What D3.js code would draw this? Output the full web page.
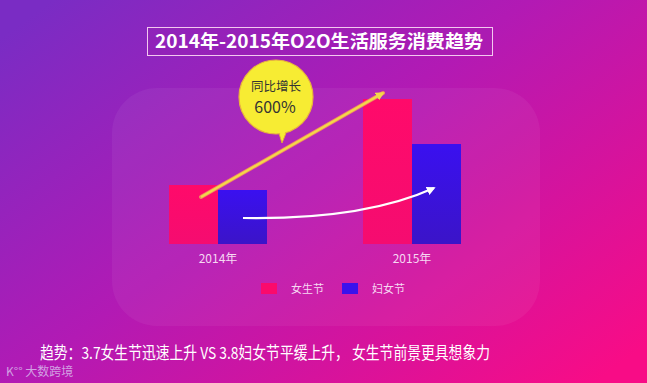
<!DOCTYPE html>
<html><head><meta charset="utf-8">
<script src="https://cdn.jsdelivr.net/npm/d3@7"></script>
<style>html,body{margin:0;padding:0;background:#fff}svg{display:block}</style>
</head><body>
<script>
const years = ["2014年", "2015年"];
const seriesNames = ["女生节", "妇女节"];
const girlsDay = [59, 145];
const womensDay = [54, 100];
const seriesColors = ["#fb0a6c", "#3a12ec"];
const title = "2014年-2015年O2O生活服务消费趋势";
const bubbleLines = ["同比增长", "600%"];
const note = "趋势：3.7女生节迅速上升 VS 3.8妇女节平缓上升， 女生节前景更具想象力";

const W = 647, H = 383;
const svg = d3.select("body").append("svg").attr("width", W).attr("height", H);
const defs = svg.append("defs");
const bg = defs.append("linearGradient").attr("id","bg").attr("x1","0").attr("y1","0.1").attr("x2","1").attr("y2","0.9");
bg.append("stop").attr("offset","0").attr("stop-color","#7a2cc4");
bg.append("stop").attr("offset","0.45").attr("stop-color","#b21ab4");
bg.append("stop").attr("offset","1").attr("stop-color","#f80c86");
svg.append("rect").attr("width",W).attr("height",H).attr("fill","url(#bg)");

// soft panel
svg.append("rect").attr("x",112).attr("y",88).attr("width",428).attr("height",238).attr("rx",45)
  .attr("fill","#ffffff").attr("opacity",0.05);

// title
svg.append("rect").attr("x",147.5).attr("y",27.5).attr("width",345).attr("height",28)
  .attr("fill","#9a1fae").attr("fill-opacity",0.3).attr("stroke","#f3c8ef").attr("stroke-width",1);
svg.append("text").attr("x",319).attr("y",48).attr("text-anchor","middle")
  .attr("font-family","'Noto Sans CJK SC', sans-serif").attr("font-weight","bold").attr("font-size",18)
  .attr("textLength",328).attr("lengthAdjust","spacingAndGlyphs")
  .attr("fill","#ffffff").text(title);

// scales
const xc = d3.scalePoint().domain(years).range([218, 412]);
const x1 = d3.scaleBand().domain(seriesNames).range([-49, 49]).padding(0);
const y = d3.scaleLinear().domain([0, 150]).range([244, 94]);

const gradB = defs.append("linearGradient").attr("id","gb").attr("x1",0).attr("y1",0).attr("x2",0).attr("y2",1);
gradB.append("stop").attr("offset",0).attr("stop-color","#3a10f0");
gradB.append("stop").attr("offset",1).attr("stop-color","#3b14c8");
const gradP = defs.append("linearGradient").attr("id","gp").attr("x1",0).attr("y1",0).attr("x2",0).attr("y2",1);
gradP.append("stop").attr("offset",0).attr("stop-color","#ff0a6a");
gradP.append("stop").attr("offset",1).attr("stop-color","#f50c70");

const data = [];
years.forEach((yr,i)=>{
  data.push({yr, s:seriesNames[0], v:girlsDay[i], fill:"url(#gp)"});
  data.push({yr, s:seriesNames[1], v:womensDay[i], fill:"url(#gb)"});
});
svg.append("g").selectAll("rect").data(data).join("rect")
  .attr("x", d => xc(d.yr) + x1(d.s))
  .attr("y", d => y(d.v))
  .attr("width", x1.bandwidth())
  .attr("height", d => y(0) - y(d.v))
  .attr("fill", d => d.fill);

// x labels
svg.append("g").selectAll("text").data(years).join("text")
  .attr("x", d => xc(d)).attr("y", 263).attr("text-anchor","middle")
  .attr("font-family","'Noto Sans CJK SC', sans-serif").attr("font-size",12)
  .attr("fill","#f6d8f2").text(d=>d);

// legend
const lg = svg.append("g");
seriesNames.forEach((n,i)=>{
  const lx = 261 + i*81;
  lg.append("rect").attr("x",lx).attr("y",283).attr("width",16).attr("height",11).attr("fill",seriesColors[i]);
  lg.append("text").attr("x",lx+30).attr("y",293).attr("font-family","'Noto Sans CJK SC', sans-serif")
    .attr("font-size",11).attr("fill","#f6d8f2").text(n);
});

// arrows
const mY = defs.append("marker").attr("id","ay").attr("viewBox","0 0 10 10").attr("refX",8).attr("refY",5)
  .attr("markerWidth",4).attr("markerHeight",4).attr("orient","auto");
mY.append("path").attr("d","M0,0L10,5L0,10z").attr("fill","#f2d84a");
const mW = defs.append("marker").attr("id","aw").attr("viewBox","0 0 10 10").attr("refX",8).attr("refY",5)
  .attr("markerWidth",4).attr("markerHeight",4).attr("orient","auto");
mW.append("path").attr("d","M0,0L10,5L0,10z").attr("fill","#ffffff");

const p1 = [xc(years[0]) - 17, y(girlsDay[0]) + 12];
const p2 = [xc(years[1]) - 29, y(girlsDay[1]) - 6];
svg.append("line").attr("x1",p1[0]).attr("y1",p1[1]).attr("x2",p2[0]).attr("y2",p2[1])
  .attr("stroke","#f08a60").attr("stroke-width",4).attr("stroke-linecap","round");
svg.append("line").attr("x1",p1[0]).attr("y1",p1[1]).attr("x2",p2[0]).attr("y2",p2[1])
  .attr("stroke","#f2d84a").attr("stroke-width",2.2).attr("marker-end","url(#ay)");

const q1 = [xc(years[0]) + 25, y(womensDay[0]) + 28];
const q2 = [xc(years[1]) + 22, y(womensDay[1]) + 44];
svg.append("path").attr("d",`M${q1[0]},${q1[1]} Q${(q1[0]+q2[0])/2+25},${q1[1]+2} ${q2[0]},${q2[1]}`)
  .attr("fill","none").attr("stroke","#ffffff").attr("stroke-width",2.2).attr("marker-end","url(#aw)");

// bubble
const bx = 276, by = 97, br = 37;
svg.append("path").attr("d",`M${bx+2},${by+br-4} L${bx+6},${by+br+9} L${bx+12},${by+br-6} Z`)
  .attr("fill","#f7ec33").attr("stroke","#e2a93a").attr("stroke-width",1);
svg.append("circle").attr("cx",bx).attr("cy",by).attr("r",br).attr("fill","#f7ec33")
  .attr("stroke","#e9b53c").attr("stroke-width",1.2);
svg.append("path").attr("d",`M${bx+3},${by+br-5} L${bx+6},${by+br+7} L${bx+11},${by+br-7} Z`).attr("fill","#f7ec33");
svg.append("text").attr("x",bx).attr("y",by-6).attr("text-anchor","middle")
  .attr("font-family","'Noto Sans CJK SC', sans-serif").attr("font-size",12.5).attr("fill","#333")
  .text(bubbleLines[0]);
svg.append("text").attr("x",bx-1).attr("y",by+16).attr("text-anchor","middle")
  .attr("font-family","'Noto Sans CJK SC', sans-serif").attr("font-size",16).attr("fill","#333")
  .text(bubbleLines[1]);

// note
svg.append("text").attr("x",40).attr("y",359)
  .attr("font-family","'Noto Sans CJK SC', sans-serif").attr("font-size",16.5).attr("fill","#ffffff")
  .attr("textLength",450).attr("lengthAdjust","spacingAndGlyphs")
  .text(note);
svg.append("text").attr("x",6).attr("y",376)
  .attr("font-family","'Noto Sans CJK SC', sans-serif").attr("font-size",12).attr("fill","#d8b8ec").attr("opacity",0.85)
  .text("K°° 大数跨境");
</script>
</body></html>
